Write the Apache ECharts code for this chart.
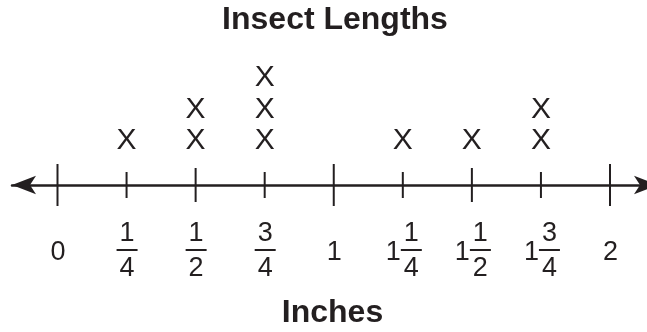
<!DOCTYPE html>
<html><head><meta charset="utf-8">
<script src="https://cdn.jsdelivr.net/npm/echarts@6/dist/echarts.min.js"></script>
<style>html,body{margin:0;padding:0;background:#fff}#c{width:647px;height:332px}</style>
</head><body><div id="c"></div>
<script>
const chartTitle = 'Insect Lengths';
const axisTitle = 'Inches';
const tickValues = [0, 0.25, 0.5, 0.75, 1, 1.25, 1.5, 1.75, 2];
const labelWhole = ['0', '', '', '', '1', '1', '1', '1', '2'];
const labelNum   = ['', '1', '1', '3', '', '1', '1', '3', ''];
const labelDen   = ['', '4', '2', '4', '', '4', '2', '4', ''];
const insectCounts = [0, 1, 2, 3, 0, 1, 1, 2, 0];

const INK = '#231f20';
const FONT = '"Liberation Sans", Arial, Helvetica, sans-serif';

const xMarks = [];
tickValues.forEach(function (v, i) {
  for (let k = 0; k < insectCounts[i]; k++) xMarks.push([v, k]);
});

const chart = echarts.init(document.getElementById('c'), null, {renderer: 'canvas'});
chart.setOption({
  animation: false,
  backgroundColor: '#fff',
  grid: [
    {left: 12, right: 0, top: 184, bottom: 147},
    {left: 57.5, right: 37, top: 59, bottom: 147}
  ],
  xAxis: [
    {gridIndex: 0, type: 'value', min: 0, max: 1,
     axisLine: {show: true, symbol: ['arrow', 'arrow'], symbolSize: [14, 24], symbolOffset: [0, 11],
                lineStyle: {color: INK, width: 2.5}},
     axisTick: {show: false}, axisLabel: {show: false}, splitLine: {show: false}},
    {gridIndex: 1, type: 'value', min: 0, max: 2, show: false}
  ],
  yAxis: [
    {gridIndex: 0, type: 'value', show: false},
    {gridIndex: 1, type: 'value', min: 0, max: 4, show: false}
  ],
  graphic: [
    {type: 'text', x: 335, y: 20, style: {text: chartTitle, font: 'bold 32px ' + FONT, fill: INK, align: 'center', verticalAlign: 'middle'}},
    {type: 'text', x: 332.5, y: 313, style: {text: axisTitle, font: 'bold 32px ' + FONT, fill: INK, align: 'center', verticalAlign: 'middle'}}
  ],
  series: [
    {
      type: 'custom', xAxisIndex: 1, yAxisIndex: 1, clip: false,
      data: tickValues.map(function (v, i) { return [v, 0, i]; }),
      renderItem: function (params, api) {
        const i = api.value(2);
        const v = tickValues[i];
        const p = api.coord([api.value(0), api.value(1)]);
        const half = (v % 1 === 0) ? 21 : ((v % 0.5 === 0) ? 17 : 13);
        const ch = [{type: 'line', shape: {x1: p[0], y1: p[1] - half, x2: p[0], y2: p[1] + half},
                     style: {stroke: INK, lineWidth: 2}}];
        const f = '27px ' + FONT;
        const hasFrac = labelNum[i] !== '';
        const hasWhole = labelWhole[i] !== '';
        let fx = p[0] + 0.5;
        if (hasWhole && hasFrac) {
          ch.push({type: 'text', x: p[0] - 9.5, y: p[1] + 68, style: {text: labelWhole[i], font: f, fill: INK, align: 'center', verticalAlign: 'middle'}});
          fx = p[0] + 8.5;
        } else if (hasWhole) {
          ch.push({type: 'text', x: p[0] + 0.5, y: p[1] + 68, style: {text: labelWhole[i], font: f, fill: INK, align: 'center', verticalAlign: 'middle'}});
        }
        if (hasFrac) {
          ch.push({type: 'text', x: fx, y: p[1] + 48.5, style: {text: labelNum[i], font: f, fill: INK, align: 'center', verticalAlign: 'middle'}});
          ch.push({type: 'rect', shape: {x: fx - 10.5, y: p[1] + 64, width: 21, height: 2}, style: {fill: INK}});
          ch.push({type: 'text', x: fx, y: p[1] + 83.5, style: {text: labelDen[i], font: f, fill: INK, align: 'center', verticalAlign: 'middle'}});
        }
        return {type: 'group', children: ch};
      }
    },
    {
      type: 'custom', xAxisIndex: 1, yAxisIndex: 1, clip: false,
      data: xMarks,
      renderItem: function (params, api) {
        const p = api.coord([api.value(0), api.value(1)]);
        return {type: 'text', x: p[0], y: p[1] - 44,
                style: {text: 'X', font: '30px ' + FONT, fill: INK, align: 'center', verticalAlign: 'middle'}};
      }
    }
  ]
});
</script>
</body></html>
